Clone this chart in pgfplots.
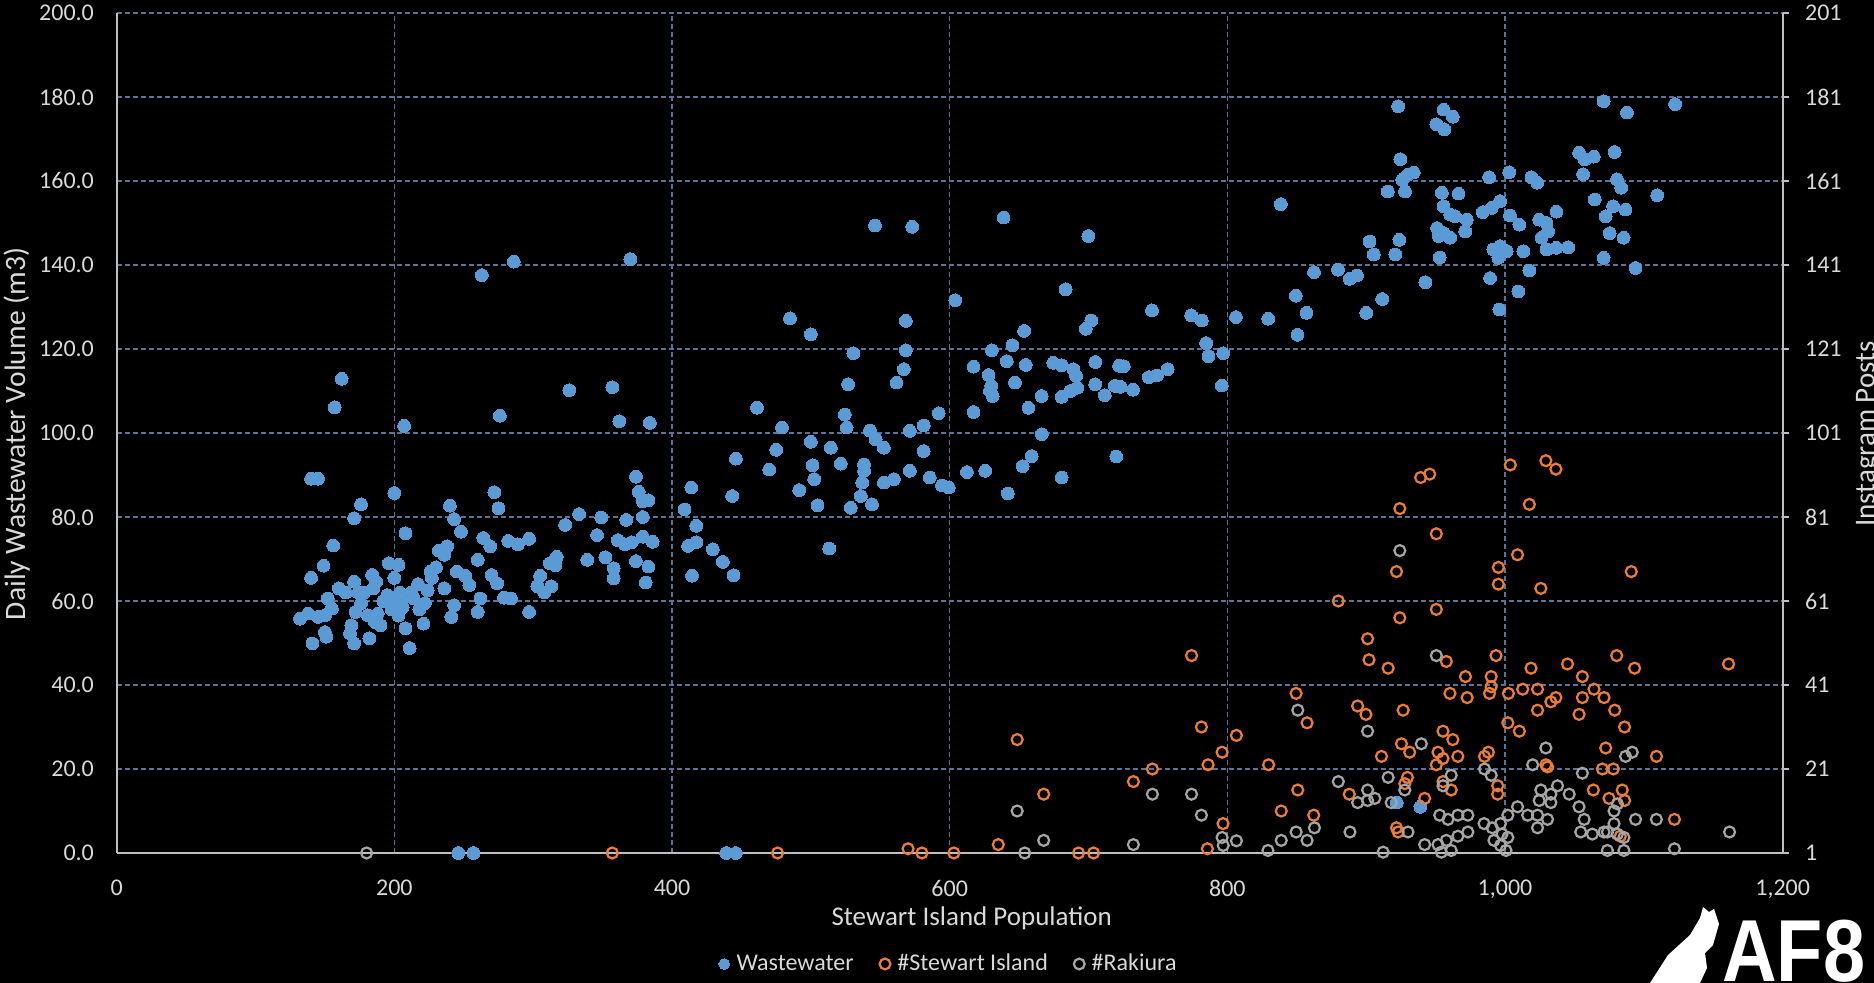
\documentclass[border=0pt]{standalone}
\usepackage{fontspec}
\setmainfont{Carlito}
\usepackage{pgfplots}
\pgfplotsset{compat=1.18}
\definecolor{textc}{RGB}{217,217,217}
\definecolor{axisc}{RGB}{191,191,191}
\definecolor{gridc}{RGB}{90,115,150}
\definecolor{bluec}{RGB}{91,155,213}
\definecolor{orangec}{RGB}{237,125,49}
\definecolor{greyc}{RGB}{165,165,165}
\begin{document}
\begin{tikzpicture}
\fill[black] (-58.35pt,-65pt) rectangle (878.65pt,426.5pt);
\begin{axis}[
  scale only axis, width=833pt, height=420pt,
  at={(0,0)}, anchor=south west,
  xmin=0, xmax=1200, ymin=0, ymax=200,
  axis x line*=bottom, axis y line*=left,
  axis line style={draw=axisc, line width=1.1pt, -},
  xtick={0,200,400,600,800,1000,1200},
  xticklabels={0,200,400,600,800,{1,000},{1,200}},
  ytick={0,20,40,60,80,100,120,140,160,180,200},
  yticklabels={0.0,20.0,40.0,60.0,80.0,100.0,120.0,140.0,160.0,180.0,200.0},
  major tick length=0pt,
  xmajorgrids, ymajorgrids,
  major grid style={draw=gridc, line width=0.7pt, dash pattern=on 2.5pt off 1.5pt},
  tick label style={font=\fontsize{12}{14}\selectfont, text=textc},
  yticklabel style={inner sep=0pt, xshift=-11.2pt},
  xticklabel style={inner sep=0pt, yshift=-13.5pt},
  clip=false,
  legend columns=3,
  legend image code/.code={\draw[#1, mark size=2.7pt] plot coordinates {(0pt,0pt)};},
  legend style={at={(0.5,0)}, anchor=center, yshift=-55.5pt, draw=none, fill=none,
    text=textc, font=\fontsize{12}{14}\selectfont,
    /tikz/every odd column/.append style={column sep=1.5pt},
    /tikz/every even column/.append style={column sep=11pt}},
]
\addplot[only marks, mark=*, mark size=3.2pt, mark options={fill=bluec, draw=bluec, line width=0pt}] coordinates {
(263,137.6)(286,140.8)(370,141.4)(162,112.9)(157,106.1)(207,101.7)(326,110.2)(357,110.9)(276,104.1)(362,102.8)
(384,102.4)(140,89.1)(145,89.1)(200,85.7)(176,83.0)(171,79.7)(272,85.9)(275,82.1)(240,82.7)(243,79.5)
(248,76.5)(208,76.1)(156,73.2)(149,68.4)(140,65.5)(374,89.6)(376,86.0)(379,83.7)(383,84.0)(379,80.0)
(367,79.3)(349,79.9)(333,80.7)(323,78.1)(346,75.7)(361,74.5)(366,73.5)(371,74.0)(379,75.3)(386,74.1)
(339,69.8)(352,70.4)(358,67.8)(358,65.4)(374,69.5)(383,68.2)(381,64.4)(297,57.4)(284,60.6)(279,60.8)
(305,66.0)(303,63.5)(308,62.0)(313,63.5)(316,68.5)(317,70.5)(312,69.0)(282,74.3)(289,73.5)(297,74.8)
(264,75.0)(269,73.0)(260,69.8)(270,66.2)(274,64.2)(262,60.6)(260,57.4)(238,73.0)(236,71.0)(245,67.0)
(251,66.0)(254,63.8)(243,59.0)(241,56.2)(230,68.0)(227,65.5)(224,62.5)(222,59.5)(221,54.6)(217,64.0)
(214,60.6)(211,48.8)(203,68.6)(200,65.5)(204,62.0)(200,59.5)(203,56.5)(206,58.5)(208,53.5)(196,69.0)
(195,61.4)(184,66.2)(187,64.6)(181,56.6)(186,55.0)(190,54.2)(182,51.1)(171,64.6)(174,62.0)(176,59.5)
(172,57.4)(169,54.2)(168,52.3)(171,49.9)(152,60.6)(155,58.2)(150,56.6)(150,52.6)(151,51.5)(141,49.9)
(132,55.8)(138,57.0)(145,56.2)(178,62)(185,63)(192,60)(198,58)(205,60)(212,62)(218,58)
(226,67)(232,72)(236,63)(165,62)(160,63)(188,57)
(546.2,149.4)(573,149.1)(638.8,151.3)(699.8,146.9)(683.5,134.2)(604,131.6)(485,127.3)(500,123.5)(568.4,126.7)(568.4,119.7)
(567,115.2)(561.7,112)(530.6,119)(526.8,111.6)(653.6,124.3)(645.2,120.9)(630.4,119.7)(617.2,115.8)(641.1,117.1)(654.8,116.2)
(628,113.8)(630,111.2)(631,108.8)(629,110)(647,112)(666.3,108.8)(656.7,106)(674.6,116.7)(680.6,116.1)(689,115.2)
(691,113.6)(692,110.8)(687,110)(680.6,108.6)(702,126.8)(698,124.8)(704.8,116.9)(704.8,111.6)(711.7,109)(718.9,111.2)
(722,116)(617.2,105)(666.3,99.7)(659,94.5)(652.6,92.1)(680.6,89.4)(641.9,85.6)(612.4,90.7)(625.6,91)(720,94.4)
(461.2,106)(479.2,101.3)(475,96)(446,93.9)(470,91.3)(500,97.9)(514.4,96.5)(501.2,92.3)(521.5,92.7)(502.4,89)
(491.6,86.4)(504.8,82.8)(524.4,104.4)(525.8,101.3)(542.6,100.6)(546.7,98.5)(552.6,96.5)(571.3,100.5)(581.3,101.8)(592.1,104.7)
(581.3,95.7)(538.3,92.5)(538.3,91)(537,88.2)(536,85)(544,83)(528.7,82.2)(552.6,88.2)(559.8,89)(571.3,91)
(585.6,89.4)(594.5,87.5)(599.3,87)(413.9,87)(409,81.8)(417.5,77.9)(417.5,74)(411.5,73.1)(429.4,72.3)(436.6,69.3)
(414.4,66)(444.3,66.1)(443.3,85)(513.2,72.5)
(923,177.8)(924.6,165.2)(926,160.3)(929.9,161.5)(915.6,157.5)(928,157.5)(838.5,154.5)(902.4,145.6)(923.9,146)(905.5,142.5)
(921,142.5)(862.4,138.3)(879.7,138.9)(888,136.7)(893.3,137.5)(849.3,132.7)(857,128.6)(900,128.6)(911.5,131.9)(850.5,123.4)
(745.7,129.2)(773.9,128)(781.6,126.8)(806.2,127.6)(829.4,127.2)(784.7,121.4)(786.4,118.3)(797,119)(796,111.3)(725.4,115.9)
(723,111)(732,110.3)(743.3,113.3)(749.3,113.7)(757,115.2)
(955.7,177)(962.4,175.3)(950.5,173.5)(956.2,172.3)(1071,179)(1122.5,178.3)(1087.8,176.3)(1053.3,166.7)(1057.4,165.1)(1063.9,165.8)
(1079,166.9)(1056.2,161.6)(1080.6,160.4)(1083.7,158.4)(1109.6,156.6)(1064.6,155.6)(1077.8,154)(1072.5,151.6)(1086.8,153.2)(1075.4,147.6)
(1085.4,146.5)(1071,141.7)(1094,139.3)(934.2,162)(988.5,160.9)(1003,162.1)(1019,160.9)(1023.2,159.6)(954.5,157.2)(966.5,157)
(955.7,154)(960.5,152)(964,151.6)(972.5,150.8)(971.3,148)(951,148.8)(955.7,147.6)(960.5,146.5)(952.2,146.9)(984,152.6)
(990.4,153.6)(996.4,155.2)(1003.6,151.8)(1010.3,149.6)(1024.6,150.8)(1029.9,150)(1031,148)(1026.3,146.5)(1029.9,143.7)(1037,144.1)
(1045.5,144.2)(1037,152.7)(991.6,143.7)(996.4,144.5)(1001.2,143.3)(995.2,141.7)(1013.2,143.3)(1017.5,138.7)(989.2,136.9)(1009.6,133.7)
(995.9,129.4)(952.9,141.8)(942.6,135.9)
(246,0)(257,0)(439,0)(446,0)(922,12)(939,11)
};
\addlegendentry{Wastewater}
\addlegendimage{only marks, mark=o, mark options={draw=orangec, line width=1.1pt}}
\addlegendentry{\#Stewart Island}
\addlegendimage{only marks, mark=o, mark options={draw=greyc, line width=1.1pt}}
\addlegendentry{\#Rakiura}
\end{axis}
\begin{axis}[
  scale only axis, width=833pt, height=420pt,
  at={(0,0)}, anchor=south west,
  xmin=0, xmax=1200, ymin=1, ymax=201,
  axis x line=none, axis y line*=right,
  axis line style={draw=axisc, line width=1.1pt, -},
  ytick={1,21,41,61,81,101,121,141,161,181,201},
  yticklabels={1,21,41,61,81,101,121,141,161,181,201},
  tick align=outside, major tick length=3pt,
  tick style={draw=axisc, line width=1pt},
  tick label style={font=\fontsize{12}{14}\selectfont, text=textc},
  yticklabel style={inner sep=0pt, xshift=8pt},
  clip=false,
]
\addplot[only marks, mark=o, mark size=2.75pt, mark options={draw=orangec, line width=1.1pt}] coordinates {
(357,1)(476,1)(570,2)(580,1)(603,1)(635,3)(648.6,28)(667.7,15)(692.8,1)(703.6,1)
(732.3,18)(746,21)(774.2,48)(781.3,31)(786.1,22)(796.2,25)(806.5,29)(796.9,8)(785.6,2)(829.7,22)
(849.5,39)(857.4,32)(850.7,16)(838.8,11)(862.2,10)(879.9,61)(901,52)(902,47)(893.8,36)(899.8,34)
(887.8,15)(939.2,90.4)(945.7,91.2)(1003.8,93.4)(1029.4,94.4)(1036.6,92.4)(1017.5,84)(924.2,83)(950.5,77)(1009,72)
(921.8,68)(995.2,69)(995.2,65)(1025.8,64)(1090.9,68)(950.5,59)(924.2,57)(915.8,45)(957.7,46.6)(993.5,48)
(971.5,43)(990,43)(990,40.6)(988.8,39)(960.3,39)(972.7,38)(1002.4,39)(1012.7,40)(1023.4,40)(1018.7,45)
(1045,46)(1055.7,43)(1080.4,48)(1093.3,45)(1064.1,40)(1071.3,38)(1055.7,38)(1053.3,34)(1033,37)(1036.6,38)
(1023.4,35)(1079,35)(1086.1,31)(926.6,35)(1002,32)(1010.3,30)(1161,46)(955.3,30)(962.4,28)(925.4,27)
(931.3,25)(911,24)(951.7,25)(955.3,23.5)(966,24)(950.5,22)(985.2,24)(988,25)(1030.6,21.5)(1029.4,22)
(1072.5,26)(1070.1,21)(1078,21)(1109.1,24)(994.7,17)(994.7,15)(929.7,19)(927.8,17.5)(955.3,18)(961.2,16)
(942.1,14)(1063.6,16)(1084.4,16)(1086.1,13.5)(1074.9,14)(921.8,7)(923,6)(1122,9)(1083,5)
};
\addplot[only marks, mark=o, mark size=2.75pt, mark options={draw=greyc, line width=1.1pt}] coordinates {
(180,1)(654,1)(648.6,11)(667.7,4)(732.3,3)(746,15)(774.2,15)(781.3,10)(796.2,4.7)(806.5,3.9)
(797,2.8)(829.2,1.6)(838.8,4)(849.5,6)(857.4,4)(862.7,7)(850.7,35)(879.9,18)(893.8,13)(888.3,6)
(901,30)(901,16)(901,13.5)(924.2,73)(950.5,48)(939.7,27)(1029.4,26)(1019.9,22)(1055.7,20)(1091.6,25)
(1086.8,24)(985.2,21)(990,19.5)(915.8,19)(906.2,14)(961.2,19.5)(955.3,17)(927.8,16)(1025.8,16)(1033,15)
(1037.8,17)(1046.2,15)(1053.3,12)(1024.6,13.5)(1033,13)(1009,12)(1016.3,10)(1002,10)(1023.4,10)(1030.6,9)
(1023.4,7)(984.9,8)(990.8,7)(996.7,8)(997.8,5.5)(1002,4.7)(996.7,2.8)(992,4)(1000.7,1.6)(952.9,10)
(958.9,9)(966,10)(973.2,10)(973.2,6)(966,5)(957.7,4)(951.7,3)(961.2,1.6)(954.1,1.2)(942.1,3)
(930.1,6)(912.2,1.2)(1057,9)(1054.5,6)(1062.9,5.5)(1071.3,6)(1078.5,8)(1073.7,6)(1080.9,5.5)(1085.6,4.7)
(1073.7,1.6)(1085.6,1.6)(1094,9)(1109,9)(1122,2)(1161.7,6)(1078.5,11)(1080.9,12.7)(918,13)
};
\end{axis}
\node[rotate=90, text=textc, font=\fontsize{14.8}{17}\selectfont] at (-50pt,209.5pt) {Daily Wastewater Volume (m3)};
\node[anchor=base, text=textc, font=\fontsize{13.5}{16}\selectfont] at (427.5pt,-36.5pt) {Stewart Island Population};
\node[rotate=90, anchor=north, inner sep=0pt, text=textc, font=\fontsize{14.5}{17}\selectfont] at (869.5pt,209.5pt) {Instagram Posts};
\fill[white] (766.65pt,-65pt) -- (775.65pt,-51pt) -- (786.65pt,-41pt) -- (791.65pt,-32.5pt) -- (793.15pt,-27pt)
  -- (796.15pt,-29.5pt) -- (798.65pt,-28pt) -- (801.15pt,-35.5pt) -- (798.15pt,-46pt) -- (794.15pt,-50pt)
  -- (795.15pt,-57.5pt) -- (791.65pt,-65pt) -- cycle;
\node[anchor=base west, inner sep=0pt, text=white] at (802.6pt,-64.5pt) {\scalebox{0.86}[1]{\fontspec{Liberation Sans}\bfseries\fontsize{44}{44}\selectfont AF8}};
\pgfresetboundingbox
\path[use as bounding box] (-58.35pt,-65pt) rectangle (878.65pt,426.5pt);
\end{tikzpicture}
\end{document}
